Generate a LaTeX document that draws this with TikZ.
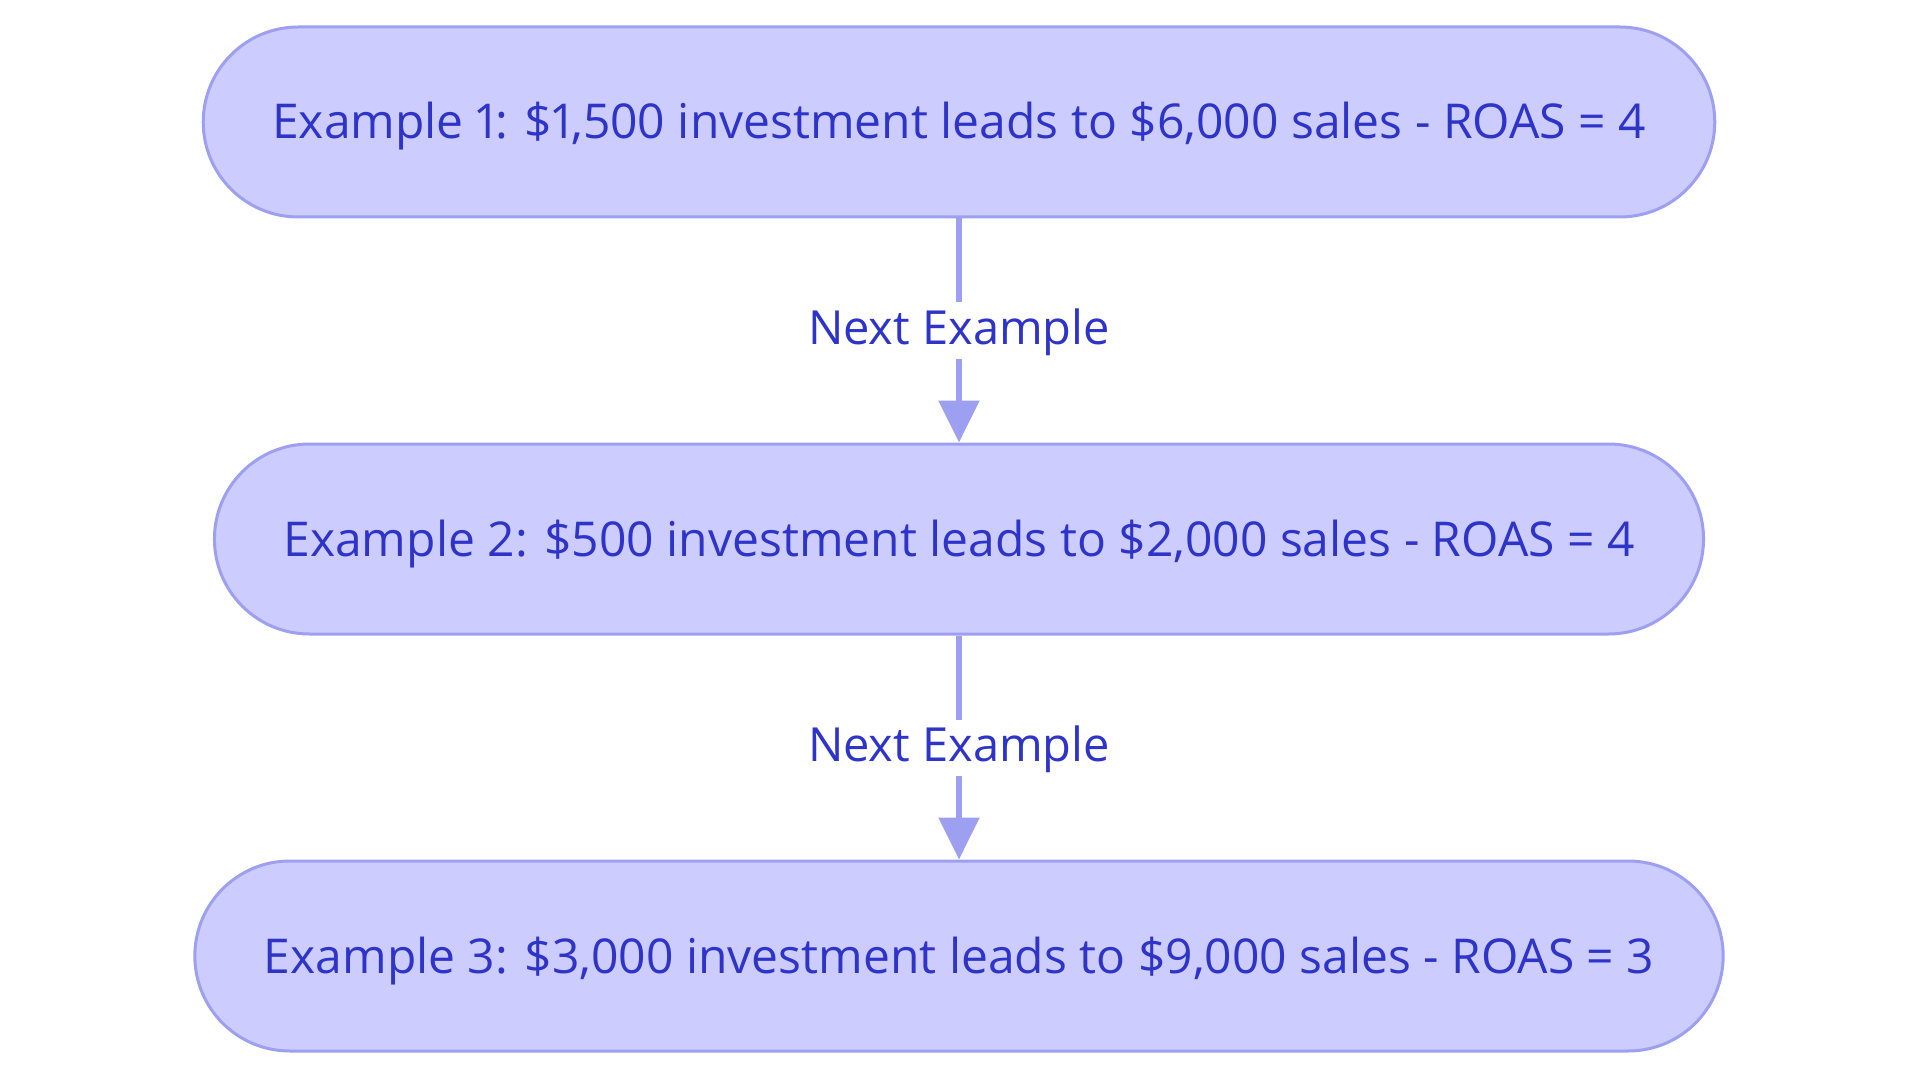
\documentclass[tikz,border=0pt]{standalone}
\usepackage{fontspec}
\setmainfont[Numbers=Proportional]{Open Sans}
\usepackage{tikz}
\usetikzlibrary{arrows.meta, positioning}
\definecolor{boxfill}{RGB}{204,204,255}
\definecolor{boxline}{RGB}{157,160,240}
\definecolor{textblue}{RGB}{46,52,200}

\begin{document}
\begin{tikzpicture}[x=1pt, y=-1pt,
		example/.style={draw=boxline, line width=3pt, fill=boxfill, text=textblue,
			rounded corners=95pt, minimum height=190pt, inner xsep=69pt,
			text height=34pt, text depth=0pt, font=\fontsize{48}{56}\selectfont},
		flow/.style={draw=boxline, line width=6pt, -{Triangle[width=40pt, length=42pt]}},
		lbl/.style={fill=white, text=textblue, inner xsep=4pt, inner ysep=4pt,
			text height=38pt, text depth=10pt, font=\fontsize{47}{56}\selectfont}]
		\useasboundingbox (0,0) rectangle (1920,1083);
		\node [example] (ex1) at (959,122) {Example 1: \$1,500 investment leads to \$6,000 sales - ROAS = 4};
		\node [example, below=224pt of ex1] (ex2) {Example 2: \$500 investment leads to \$2,000 sales - ROAS = 4};
		\node [example, below=224pt of ex2] (ex3) {Example 3: \$3,000 investment leads to \$9,000 sales - ROAS = 3};
		\foreach \a/\b in {ex1/ex2, ex2/ex3}{
			\draw [flow] (\a) -- node [lbl] {Next Example} (\b);
		}
	\end{tikzpicture}
\end{document}
